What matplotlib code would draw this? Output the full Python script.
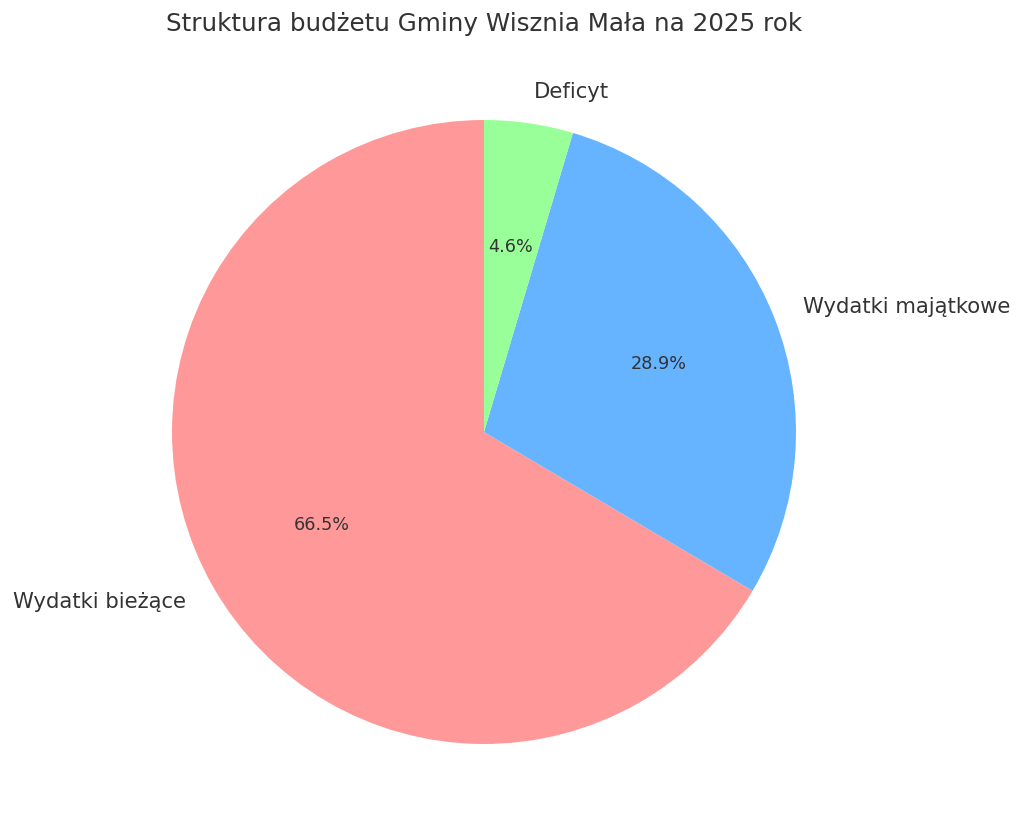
import matplotlib.pyplot as plt

labels = ['Wydatki bieżące', 'Wydatki majątkowe', 'Deficyt']
shares = [66.5, 28.9, 4.6]
colors = ['#ff9999', '#66b3ff', '#99ff99']
title = 'Struktura budżetu Gminy Wisznia Mała na 2025 rok'

fig = plt.figure(figsize=(10.24, 8.36), dpi=100)
# pie center ~ (484, 432) px, radius ~ 312 px
ax = fig.add_axes([94 / 1024, 14 / 836, 780 / 1024, 780 / 836])

wedges, texts, autotexts = ax.pie(shares, labels=labels, colors=colors,
                                  autopct='%1.1f%%', startangle=90,
                                  textprops={'color': '#333333'})
for t in texts:
    t.set_fontsize(15.2)
for t in autotexts:
    t.set_fontsize(12.7)
ax.set_aspect('equal')

fig.text(484 / 1024, 1 - 24 / 836, title, ha='center', va='center',
         fontsize=17.7, color='#333333')

plt.savefig('out.png', dpi=100)
